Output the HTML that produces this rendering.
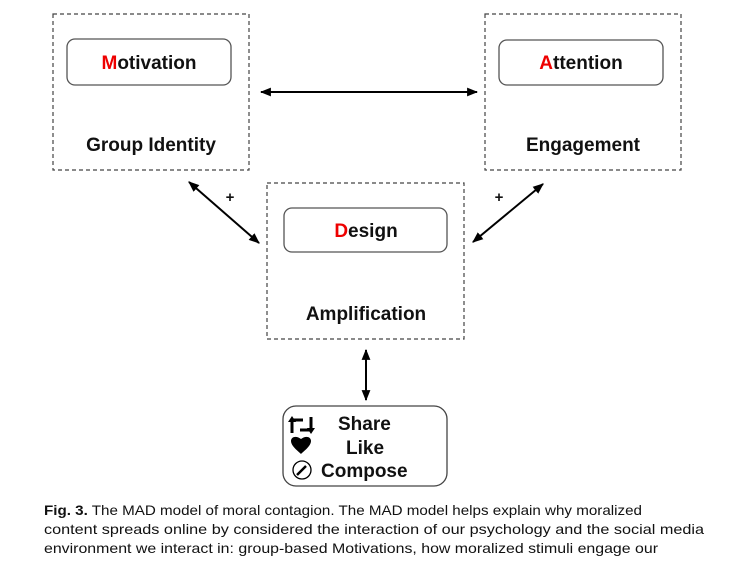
<!DOCTYPE html>
<html><head><meta charset="utf-8"><style>
html,body{margin:0;padding:0;background:#fff;}
svg{display:block;}
text{font-family:"Liberation Sans",Arial,sans-serif;}
</style></head><body>
<svg width="744" height="564" viewBox="0 0 744 564" xmlns="http://www.w3.org/2000/svg">
<defs>
<marker id="ah" viewBox="0 0 10 10" refX="9" refY="5" markerWidth="5.5" markerHeight="5.5" orient="auto-start-reverse">
<path d="M0,1 L10,5 L0,9 Z" fill="#000"/></marker>
</defs>
<g fill="none" stroke="#444" stroke-width="1.2" stroke-dasharray="4,3">
<rect x="53" y="14" width="196" height="156"/>
<rect x="485" y="14" width="196" height="156"/>
<rect x="267" y="183" width="197" height="156"/>
</g>
<g fill="#fff" stroke="#555" stroke-width="1.3">
<rect x="67" y="39" width="164" height="46" rx="8"/>
<rect x="499" y="40" width="164" height="45" rx="8"/>
<rect x="284" y="208" width="163" height="44" rx="8"/>
<rect x="283" y="406" width="164" height="80" rx="13" stroke="#444"/>
</g>
<g font-weight="bold" font-size="19" text-anchor="middle" fill="#111">
<text x="149" y="69"><tspan fill="#e00">M</tspan>otivation</text>
<text x="581" y="69"><tspan fill="#e00">A</tspan>ttention</text>
<text x="366" y="237"><tspan fill="#e00">D</tspan>esign</text>
<text x="151" y="151">Group Identity</text>
<text x="583" y="151">Engagement</text>
<text x="366" y="320">Amplification</text>
<text x="230" y="202" font-size="15">+</text>
<text x="499" y="202" font-size="15">+</text>
</g>
<g stroke="#000" stroke-width="2" marker-start="url(#ah)" marker-end="url(#ah)">
<line x1="261" y1="92" x2="477" y2="92"/>
<line x1="189" y1="182" x2="259" y2="243"/>
<line x1="543" y1="184" x2="473" y2="242"/>
<line x1="366" y1="350" x2="366" y2="400"/>
</g>
<g stroke="#000" stroke-width="3" fill="none">
<path d="M292,433 V420 H303"/>
<path d="M311,417 V430 H300"/>
</g>
<path d="M288,422 L292,416 L296,422 Z M307,428 L311,434 L315,428 Z" fill="#000"/>
<path d="M301,454 C298,451 291,446 291,441 C291,437 296,435 301,439 C306,435 311,437 311,441 C311,446 304,451 301,454 Z" fill="#000"/>
<circle cx="302" cy="470" r="9" fill="none" stroke="#000" stroke-width="1.3"/>
<path d="M297,475 L306,466" stroke="#000" stroke-width="2.5"/>
<g font-weight="bold" font-size="19" fill="#111">
<text x="338" y="430">Share</text>
<text x="346" y="454">Like</text>
<text x="321" y="477">Compose</text>
</g>
<g font-size="14" fill="#111">
<text x="44" y="515" textLength="598" lengthAdjust="spacingAndGlyphs"><tspan font-weight="bold">Fig. 3.</tspan> The MAD model of moral contagion. The MAD model helps explain why moralized</text>
<text x="44" y="534" textLength="660" lengthAdjust="spacingAndGlyphs">content spreads online by considered the interaction of our psychology and the social media</text>
<text x="44" y="553" textLength="614" lengthAdjust="spacingAndGlyphs">environment we interact in: group-based Motivations, how moralized stimuli engage our</text>
</g>
</svg>
</body></html>
